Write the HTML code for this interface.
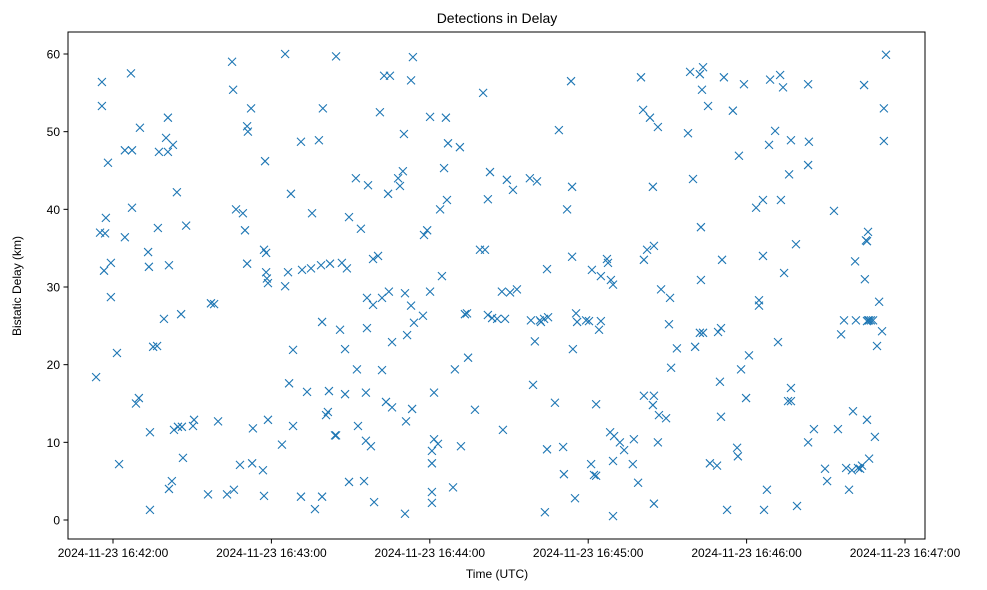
<!DOCTYPE html>
<html><head><meta charset="utf-8"><style>
body{margin:0;background:#fff;}
svg{display:block;font-family:"Liberation Sans","DejaVu Sans",sans-serif;}
</style></head><body>
<svg id="chart" width="987" height="590">
<rect width="987" height="590" fill="#fff"/>
<text x="497" y="23" font-size="14" text-anchor="middle">Detections in Delay</text>
<text x="497" y="578" font-size="12" text-anchor="middle">Time (UTC)</text>
<text x="21" y="286" font-size="12" text-anchor="middle" transform="rotate(-90 21 286)">Bistatic Delay (km)</text>
<g id="marks"></g>
<g id="axes"></g>
<rect x="68" y="32" width="857" height="507" fill="none" stroke="#000" stroke-width="1"/>
</svg>
<script>
// seconds after 16:42:00 UTC
const times = [-6.4,-4.9,-4.2,-4.2,-3.4,-3.0,-2.7,-1.9,-0.8,-0.8,1.5,2.3,4.5,4.5,6.8,7.2,7.2,8.7,9.8,10.2,13.3,13.6,14.0,14.0,15.2,16.7,17.0,17.4,19.3,20.1,20.8,20.8,21.2,21.2,22.3,22.7,23.1,24.2,24.6,25.8,26.1,26.5,27.7,30.3,30.7,36.0,37.1,38.3,39.8,43.2,45.1,45.5,45.8,46.6,48.1,49.2,50.0,50.8,50.8,51.1,52.3,53.0,52.7,56.8,57.2,57.2,57.6,58.0,58.0,58.7,58.7,58.3,64.0,65.2,65.2,66.3,66.7,67.4,68.2,68.2,71.2,71.2,71.6,73.5,75.0,75.4,76.5,78.8,79.2,79.2,79.5,78.0,80.7,81.4,81.8,82.2,84.1,84.5,84.5,86.0,86.7,87.9,87.9,88.6,89.4,89.4,92.0,92.4,92.8,93.9,95.1,95.8,95.8,96.6,96.2,96.2,97.7,98.5,98.9,98.5,100.4,101.1,101.9,101.9,102.7,103.4,104.5,104.9,105.7,104.2,105.7,108.0,108.7,109.8,110.2,110.6,110.6,111.0,111.4,112.9,113.6,112.9,113.3,114.0,117.4,117.8,119.0,120.1,120.1,120.8,120.8,120.8,120.8,121.6,121.6,123.1,123.9,124.6,125.4,126.1,126.5,126.9,128.8,129.5,131.4,131.8,133.3,134.1,134.5,137.1,139.0,140.2,140.9,142.0,142.0,142.8,143.6,145.5,147.3,147.7,148.5,149.2,150.4,151.5,153.0,157.9,158.3,159.1,159.8,160.6,161.7,162.1,163.3,163.6,164.4,164.4,164.8,167.4,168.9,170.5,170.8,172.0,173.5,173.9,174.2,173.9,175.0,175.4,175.8,179.2,180.3,181.1,181.4,182.2,183.0,183.0,184.1,184.8,184.8,187.1,187.5,188.3,188.6,189.4,189.4,189.4,189.8,192.0,193.6,197.3,196.9,198.9,200.0,200.8,201.1,201.1,202.3,203.4,204.5,204.5,204.9,204.9,204.9,206.4,206.4,206.8,207.6,209.5,210.6,211.0,211.4,213.6,217.8,218.6,219.7,220.5,222.3,222.7,222.3,223.1,223.5,222.7,223.5,225.4,226.1,228.8,229.2,229.9,230.3,230.3,230.7,231.4,232.6,234.8,236.4,236.7,237.1,237.9,239.0,239.8,240.9,243.6,244.7,244.7,246.2,246.2,246.6,247.7,248.5,248.9,250.8,251.9,252.7,253.0,253.8,254.2,255.7,256.1,256.8,256.8,256.8,258.7,259.1,263.3,263.3,263.3,263.6,265.5,269.7,270.5,273.1,274.6,275.8,276.9,277.7,278.8,280.3,279.9,281.1,281.4,282.2,283.0,283.7,284.5,284.8,285.2,285.6,285.6,286.0,286.4,287.1,287.9,285.6,286.4,286.0,288.6,289.4,290.2,291.3,292.0,292.0,292.8];
// bistatic delay in km
const delays = [18.4,37.0,56.4,53.3,32.1,36.9,38.9,46.0,33.1,28.7,21.5,7.2,36.4,47.6,57.5,47.6,40.2,15.0,15.7,50.5,34.5,32.6,11.3,1.3,22.3,22.4,37.6,47.4,25.9,49.2,47.4,51.8,32.8,4.0,5.0,48.3,11.6,42.2,12.0,26.5,12.0,8.0,37.9,12.1,12.9,3.3,27.9,27.8,12.7,3.3,59.0,55.4,3.9,40.0,7.1,39.5,37.3,33.0,50.7,50.0,53.0,11.8,7.3,6.4,3.1,34.8,46.2,34.4,31.9,12.9,30.5,31.1,9.7,60.0,30.1,31.9,17.6,42.0,12.1,21.9,3.0,48.7,32.2,16.5,32.4,39.5,1.4,32.8,25.5,3.0,53.0,48.9,13.5,13.9,16.6,33.0,10.9,59.7,10.9,24.5,33.1,22.0,16.2,32.4,39.0,4.9,44.0,19.4,12.1,37.5,5.0,10.2,16.4,43.1,28.6,24.7,9.5,27.7,2.3,33.6,34.0,52.5,19.3,28.6,57.2,15.2,29.4,57.2,14.5,42.0,22.9,44.0,43.0,44.9,49.7,0.8,29.2,12.7,23.8,56.6,59.6,27.6,14.3,25.4,26.3,36.7,37.3,51.9,29.4,8.9,7.3,3.6,2.2,10.4,16.4,9.8,40.0,31.4,45.3,51.8,41.2,48.5,4.2,19.4,48.0,9.5,26.5,26.6,20.9,14.2,34.8,55.0,34.8,41.3,26.4,44.8,26.0,25.9,29.4,11.6,25.9,43.8,29.3,42.5,29.7,44.0,25.7,17.4,23.0,43.6,25.7,25.5,25.9,1.0,32.3,9.1,26.1,15.1,50.2,9.4,5.9,40.0,56.5,42.9,22.0,33.9,2.8,26.6,25.5,25.7,25.6,7.2,32.2,5.8,5.7,14.9,24.5,25.6,31.4,33.6,33.1,11.3,30.9,30.3,0.5,7.6,10.8,10.0,9.0,10.4,7.2,4.8,57.0,52.8,33.5,16.0,34.8,51.8,14.8,42.9,35.3,16.0,2.1,10.0,50.6,13.5,29.7,13.1,25.2,28.6,19.6,22.1,49.8,57.7,43.9,22.3,24.1,30.9,57.4,55.4,58.3,37.7,24.1,53.3,7.3,7.0,24.2,17.8,24.7,13.3,33.5,57.0,1.3,52.7,9.3,8.2,46.9,19.4,56.1,15.7,21.2,40.2,28.3,27.6,34.0,41.2,1.3,3.9,48.3,56.7,50.1,22.9,57.3,41.2,55.7,31.8,15.3,44.5,15.3,17.0,48.9,35.5,1.8,56.1,10.0,45.7,48.7,11.7,6.6,5.0,39.8,11.7,23.9,25.7,6.7,3.9,14.0,6.4,33.3,25.7,6.7,6.6,7.0,56.0,31.0,36.0,35.9,25.6,25.7,25.7,25.7,25.7,12.9,7.9,37.1,10.7,22.4,28.1,24.3,53.0,48.8,59.9];
const xTickSeconds = [0,60,120,180,240,300];
const xTickLabels = ["2024-11-23 16:42:00","2024-11-23 16:43:00","2024-11-23 16:44:00","2024-11-23 16:45:00","2024-11-23 16:46:00","2024-11-23 16:47:00"];
const yTicks = [0,10,20,30,40,50,60];

const NS="http://www.w3.org/2000/svg";
function xs(t){return 113 + t*(792/300);}
function ys(d){return 520 - d*(466/60);}
function mk(tag,attrs,parent){const e=document.createElementNS(NS,tag);for(const k in attrs)e.setAttribute(k,attrs[k]);parent.appendChild(e);return e;}
const marks=document.getElementById('marks');
const axes=document.getElementById('axes');
for(let i=0;i<times.length;i++){
  const cx=xs(times[i]), cy=ys(delays[i]), r=4;
  const p=mk('path',{d:`M${cx-r},${cy-r}L${cx+r},${cy+r}M${cx-r},${cy+r}L${cx+r},${cy-r}`,stroke:'#1f77b4','stroke-width':1.1,fill:'none'},marks);
  
  
}
xTickSeconds.forEach((t,i)=>{
  const x=xs(t);
  const l=mk('line',{x1:x,x2:x,y1:539,y2:543.5,stroke:'#000'},axes);
  
  
  const tx=mk('text',{x:x,y:557,'font-size':12,'text-anchor':'middle'},axes);
  tx.textContent=xTickLabels[i];
  
  
});
yTicks.forEach(v=>{
  const y=ys(v);
  const l=mk('line',{x1:63.5,x2:68,y1:y,y2:y,stroke:'#000'},axes);
  
  
  const tx=mk('text',{x:60,y:y+4.5,'font-size':12,'text-anchor':'end'},axes);
  tx.textContent=String(v);
  
  
});
</script>
</body></html>
